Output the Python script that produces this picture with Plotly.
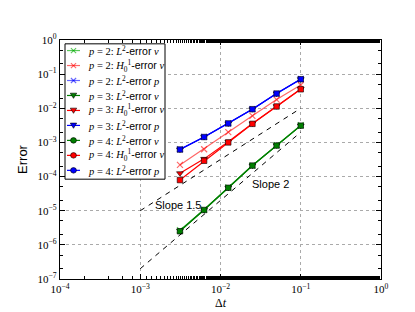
import plotly.graph_objects as go

dt = [0.1, 0.05, 0.025, 0.0125, 0.00625, 0.003125]

p2_L2v = [3.2e-3, 8.3e-4, 2.1e-4, 4.8e-5, 1.08e-5, 2.7e-6]
p2_H1v = [0.048, 0.018, 6.0e-3, 2.0e-3, 6.3e-4, 2.2e-4]
p2_L2p = [0.072, 0.027, 9.5e-3, 3.6e-3, 1.45e-3, 6.3e-4]
p3_L2v = [3.1e-3, 8.2e-4, 2.1e-4, 4.7e-5, 1.05e-5, 2.6e-6]
p3_H1v = [0.037, 0.0115, 3.6e-3, 1.05e-3, 3.3e-4, 1.25e-4]
p3_L2p = [0.071, 0.027, 9.4e-3, 3.6e-3, 1.44e-3, 6.2e-4]
p4_L2v = [3.1e-3, 8.1e-4, 2.1e-4, 4.7e-5, 1.05e-5, 2.5e-6]
p4_H1v = [0.036, 0.0113, 3.5e-3, 1.0e-3, 2.9e-4, 7.9e-5]
p4_L2p = [0.071, 0.027, 9.4e-3, 3.6e-3, 1.44e-3, 6.2e-4]

ref_x = [1e-3, 1e-1]
ref15 = [1e-5, 1e-2]
ref2 = [2e-7, 2e-3]

xticks = [1e-4, 1e-3, 1e-2, 1e-1, 1]
xticktext = ["10<sup>−4</sup>", "10<sup>−3</sup>", "10<sup>−2</sup>", "10<sup>−1</sup>", "10<sup>0</sup>"]
yticks = [1e-7, 1e-6, 1e-5, 1e-4, 1e-3, 1e-2, 1e-1, 1]
yticktext = ["10<sup>−7</sup>", "10<sup>−6</sup>", "10<sup>−5</sup>", "10<sup>−4</sup>",
             "10<sup>−3</sup>", "10<sup>−2</sup>", "10<sup>−1</sup>", "10<sup>0</sup>"]

G2, R2, B2 = "rgba(0,170,0,0.65)", "rgba(255,0,0,0.6)", "rgba(0,0,255,0.6)"
G, R, B = "#007f00", "#ff0000", "#0000ff"

ERR = "<span style='font-family:Liberation Sans'>-error</span>"
L2v = "<i>L</i><sup>2</sup>" + ERR + " <i>v</i>"
H1v = "<i>H</i><sub>0</sub><sup>1</sup>" + ERR + " <i>v</i>"
L2p = "<i>L</i><sup>2</sup>" + ERR + " <i>p</i>"

series = [
    (p2_L2v, G2, "x", 2, L2v),
    (p2_H1v, R2, "x", 2, H1v),
    (p2_L2p, B2, "x", 2, L2p),
    (p3_L2v, G, "tri", 3, L2v),
    (p3_H1v, R, "tri", 3, H1v),
    (p3_L2p, B, "tri", 3, L2p),
    (p4_L2v, G, "o", 4, L2v),
    (p4_H1v, R, "o", 4, H1v),
    (p4_L2p, B, "o", 4, L2p),
]

fig = go.Figure()
for ys, col, sym, p, lab in series:
    if sym == "x":
        marker = dict(symbol="x-thin", size=6, color=col, line=dict(color=col, width=1.2))
    elif sym == "tri":
        marker = dict(symbol="triangle-down", size=6, color=col, line=dict(color="black", width=0.6))
    else:
        marker = dict(symbol="square", size=5.5, color=col, line=dict(color="black", width=0.6))
    fig.add_trace(go.Scatter(
        x=dt, y=ys, mode="lines+markers", line=dict(color=col, width=1.2),
        marker=marker, name=f"p = {p}", showlegend=False))

fig.add_trace(go.Scatter(x=ref_x, y=ref15, mode="lines", showlegend=False,
                         line=dict(color="black", dash="5px,5px", width=1)))
fig.add_trace(go.Scatter(x=ref_x, y=ref2, mode="lines", showlegend=False,
                         line=dict(color="black", dash="5px,5px", width=1)))

fig.add_annotation(x=-2.53, y=-4.84, text="Slope 1.5", showarrow=False,
                   font=dict(family="Liberation Sans", size=11, color="black"))
fig.add_annotation(x=-1.38, y=-4.22, text="Slope 2", showarrow=False,
                   font=dict(family="Liberation Sans", size=11, color="black"))

# ---- hand-built legend (layout only, pixel positions inside the plot area) ----
L, T, W, H = 52, 32, 321, 249
def fx(px):
    return (px - L) / W
def fy(py):
    return (T + H - py) / H

shapes = [dict(type="rect", xref="paper", yref="paper", x0=fx(57), x1=fx(157), y0=fy(177), y1=fy(36),
               fillcolor="white", line=dict(color="black", width=1), layer="above")]
for i, (ys, col, sym, p, lab) in enumerate(series):
    yc = 43 + 15.6 * i
    cx = 65.5
    shapes.append(dict(type="line", xref="paper", yref="paper", x0=fx(59), x1=fx(72), y0=fy(yc), y1=fy(yc),
                       line=dict(color=col, width=1.2)))
    if sym == "x":
        for s in (-1, 1):
            shapes.append(dict(type="line", xref="paper", yref="paper",
                               x0=fx(cx - 2.6), x1=fx(cx + 2.6), y0=fy(yc - 2.6 * s), y1=fy(yc + 2.6 * s),
                               line=dict(color=col, width=1.1)))
    elif sym == "tri":
        path = (f"M {fx(cx-3.2)} {fy(yc-2.4)} L {fx(cx+3.2)} {fy(yc-2.4)} "
                f"L {fx(cx)} {fy(yc+3.0)} Z")
        shapes.append(dict(type="path", xref="paper", yref="paper", path=path,
                           fillcolor=col, line=dict(color="black", width=0.6)))
    else:
        shapes.append(dict(type="circle", xref="paper", yref="paper",
                           x0=fx(cx - 2.9), x1=fx(cx + 2.9), y0=fy(yc + 2.9), y1=fy(yc - 2.9),
                           fillcolor=col, line=dict(color="black", width=0.6)))
    fig.add_annotation(xref="paper", yref="paper", x=fx(78), y=fy(yc), xanchor="left", yanchor="middle",
                       text=f"<i>p</i> = {p}: " + lab, showarrow=False,
                       font=dict(family="Liberation Serif", size=10.5, color="black"))

axis_common = dict(type="log", showline=True, linecolor="black", linewidth=1.2, mirror="ticks",
                   ticks="inside", ticklen=5, tickcolor="black",
                   showgrid=True, gridcolor="#aaaaaa", griddash="dot", gridwidth=0.8,
                   zeroline=False, tickfont=dict(family="Liberation Serif", size=11, color="black"),
                   minor=dict(ticks="inside", ticklen=2.5, tickcolor="black", showgrid=False))

fig.update_xaxes(range=[-4, 0], tickvals=xticks, ticktext=xticktext,
                 title=dict(text="Δ<i>t</i>", font=dict(family="Liberation Serif", size=12, color="black"),
                            standoff=4),
                 **axis_common)
fig.update_yaxes(range=[-7, 0], tickvals=yticks, ticktext=yticktext,
                 title=dict(text="Error", font=dict(family="Liberation Sans", size=13, color="black"),
                            standoff=6),
                 **axis_common)

fig.update_layout(
    width=415, height=312, margin=dict(l=52, r=42, t=32, b=31),
    paper_bgcolor="white", plot_bgcolor="white", showlegend=False,
    shapes=shapes,
)

fig.write_html("out.html")
